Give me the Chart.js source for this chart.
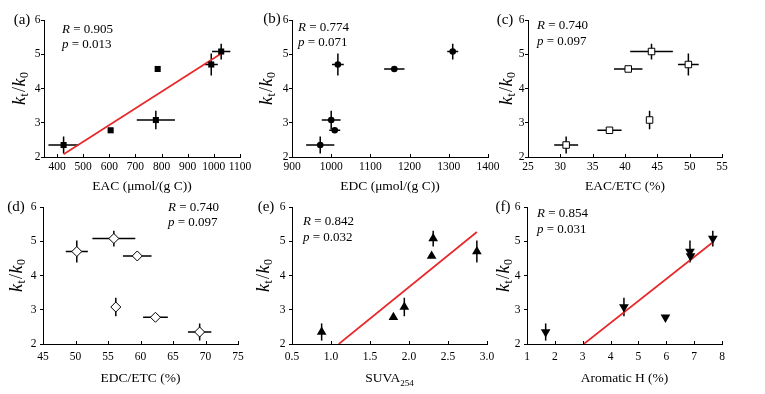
<!DOCTYPE html>
<html><head><meta charset="utf-8">
<script src="https://cdn.jsdelivr.net/npm/chart.js@4.4.0/dist/chart.umd.min.js"></script>
<style>
html,body{margin:0;padding:0;background:#fff;}
#wrap{position:relative;width:765px;height:394px;overflow:hidden;background:#fff;}
#wrap canvas{position:absolute;left:0;top:0;}
</style></head><body>
<div id="wrap"></div>
<script>
// ---- data ----
const kRatio    = [2.35, 2.78, 3.08, 4.57, 4.70, 5.08];
const kRatioErr = [0.25, 0.05, 0.27, 0.05, 0.32, 0.23];
const eac       = [425, 605, 778, 785, 990, 1028];
const eacErr    = [58, 0, 73, 0, 25, 35];
const edc       = [972, 1009, 1000, 1161, 1017, 1310];
const edcErr    = [36, 14, 24, 26, 15, 14];
const eacEtc    = [30.9, 37.6, 43.8, 40.5, 49.8, 44.1];
const eacEtcErr = [1.85, 1.87, 0, 2.2, 1.6, 3.3];
const edcEtc    = [69.1, 62.3, 56.2, 59.5, 50.2, 55.9];
const edcEtcErr = [1.8, 1.9, 0, 2.2, 1.7, 3.3];
const suva      = [0.88, 1.80, 1.94, 2.29, 2.87, 2.31];
const aromH     = [1.67, 5.97, 4.48, 6.87, 6.85, 7.67];
const fitAx = [425, 1030], fitAy = [2.08, 5.03];
const fitEx = [1.10, 2.87], fitEy = [2.00, 5.27];
const fitFx = [3.04, 7.67], fitFy = [2.00, 4.97];
const ticksA = [400, 500, 600, 700, 800, 900, 1000, 1100];
const ticksB = [900, 1000, 1100, 1200, 1300, 1400];
const ticksC = [25, 30, 35, 40, 45, 50, 55];
const ticksD = [45, 50, 55, 60, 65, 70, 75];
const ticksE = [0.5, 1.0, 1.5, 2.0, 2.5, 3.0];
const ticksF = [1, 2, 3, 4, 5, 6, 7, 8];
const ticksY = [2, 3, 4, 5, 6];
const statR = ['0.905', '0.774', '0.740', '0.740', '0.842', '0.854'];
const statP = ['0.013', '0.071', '0.097', '0.097', '0.032', '0.031'];
const panelLabels = ['(a)', '(b)', '(c)', '(d)', '(e)', '(f)'];

// ---- layout / style ----
const W = 765, H = 394, YW = 30, XH = 20;
const SERIF = "'Liberation Serif','Times New Roman',serif";
const RED = '#e8282a';

const panels = [
 {x: eac, xe: eacErr, min: 350, max: 1100, ticks: ticksA, l: 44, r: 240, t: 20, b: 157,
  ps: 'rect', pr: 4.3, bg: '#000', bw: 0, rot: 0, fitX: fitAx, fitY: fitAy,
  title: [{t: 'EAC (μmol/(g C))'}], lab: [22, 20], st: [62, 30, 45], yt: 20, ypad: 0.5, xpad: 3},
 {x: edc, xe: edcErr, min: 900, max: 1400, ticks: ticksB, l: 292, r: 488, t: 20, b: 157,
  ps: 'circle', pr: 3.3, bg: '#000', bw: 0, rot: 0,
  title: [{t: 'EDC (μmol/(g C))'}], lab: [272, 19], st: [298, 28, 43], yt: 267, ypad: 0.5, xpad: 3},
 {x: eacEtc, xe: eacEtcErr, min: 25, max: 55, ticks: ticksC, l: 528, r: 722, t: 20, b: 157,
  ps: 'rect', pr: 4.6, bg: '#fff', bw: 1, rot: 0,
  title: [{t: 'EAC/ETC (%)'}], lab: [505, 20], st: [537, 26, 42], yt: 507, ypad: 0.5, xpad: 3},
 {x: edcEtc, xe: edcEtcErr, min: 45, max: 75, ticks: ticksD, l: 43, r: 238, t: 207, b: 344,
  ps: 'rectRot', pr: 5, bg: '#fff', bw: 1, rot: 0,
  title: [{t: 'EDC/ETC (%)'}], lab: [16, 207], st: [168, 208, 223], yt: 17, ypad: 3.5, xpad: 6},
 {x: suva, xe: null, min: 0.5, max: 3.0, ticks: ticksE, l: 292, r: 487, t: 207, b: 344,
  ps: 'triangle', pr: 5.6, bg: '#000', bw: 0, rot: 0, fitX: fitEx, fitY: fitEy,
  title: [{t: 'SUVA'}, {t: '254', sub: true}], lab: [266, 207], st: [303, 222, 238], yt: 264, ypad: 3.5, xpad: 6, dec: 1},
 {x: aromH, xe: null, min: 1, max: 8, ticks: ticksF, l: 527, r: 722, t: 207, b: 344,
  ps: 'triangle', pr: 5.6, bg: '#000', bw: 0, rot: 180, fitX: fitFx, fitY: fitFy,
  title: [{t: 'Aromatic H (%)'}], lab: [503, 207], st: [537, 214, 230], yt: 504, ypad: 3.5, xpad: 6}
];

function drawParts(ctx, parts, x, y, align) {
  let w = 0;
  parts.forEach(p => { ctx.font = p.f; p.w = ctx.measureText(p.t).width; w += p.w + (p.sp || 0); });
  let cx = align === 'center' ? x - w / 2 : x;
  parts.forEach(p => { ctx.font = p.f; ctx.fillText(p.t, cx, y + (p.dy || 0)); cx += p.w + (p.sp || 0); });
}

function makeDeco(p, i) {
  return {
    id: 'deco' + i,
    beforeDatasetsDraw(chart) {
      const ctx = chart.ctx, xs = chart.scales.x, ys = chart.scales.y;
      ctx.save();
      ctx.strokeStyle = '#000'; ctx.lineWidth = 1.5;
      p.x.forEach((xv, k) => {
        const px = xs.getPixelForValue(xv), py = ys.getPixelForValue(kRatio[k]);
        const ye = kRatioErr[k];
        ctx.beginPath();
        ctx.moveTo(px, ys.getPixelForValue(kRatio[k] - ye));
        ctx.lineTo(px, ys.getPixelForValue(kRatio[k] + ye));
        if (p.xe && p.xe[k] > 0) {
          ctx.moveTo(xs.getPixelForValue(xv - p.xe[k]), py);
          ctx.lineTo(xs.getPixelForValue(xv + p.xe[k]), py);
        }
        ctx.stroke();
      });
      ctx.restore();
    },
    afterDraw(chart) {
      const ctx = chart.ctx, xs = chart.scales.x, a = chart.chartArea;
      ctx.save();
      // inward x tick marks
      ctx.strokeStyle = '#000'; ctx.lineWidth = 1;
      ctx.beginPath();
      p.ticks.forEach(v => {
        const px = Math.round(xs.getPixelForValue(v)) + 0.5;
        ctx.moveTo(px, Math.round(a.bottom)); ctx.lineTo(px, Math.round(a.bottom) - 3);
      });
      ctx.stroke();
      ctx.fillStyle = '#000';
      ctx.textBaseline = 'middle';
      ctx.textAlign = 'left';
      // panel label
      drawParts(ctx, [{t: panelLabels[i], f: '15px ' + SERIF}], p.lab[0], p.lab[1], 'center');
      // statistics
      drawParts(ctx, [{t: 'R', f: 'italic 13px ' + SERIF}, {t: ' = ' + statR[i], f: '13px ' + SERIF}], p.st[0], p.st[1], 'left');
      drawParts(ctx, [{t: 'p', f: 'italic 13px ' + SERIF}, {t: ' = ' + statP[i], f: '13px ' + SERIF}], p.st[0], p.st[2], 'left');
      // x title
      const tparts = p.title.map(q => q.sub ? {t: q.t, f: '9px ' + SERIF, dy: 5} : {t: q.t, f: '13.5px ' + SERIF});
      drawParts(ctx, tparts, (a.left + a.right) / 2, p.b < 200 ? 186.5 : 378.5, 'center');
      // y title k_t/k_0
      ctx.translate(p.yt, (a.top + a.bottom) / 2);
      ctx.rotate(-Math.PI / 2);
      drawParts(ctx, [
        {t: 'k', f: 'italic 18px ' + SERIF, sp: 0.5},
        {t: 't', f: '12px ' + SERIF, dy: 4.5, sp: 1},
        {t: '/', f: '18px ' + SERIF, sp: 0.5},
        {t: 'k', f: 'italic 18px ' + SERIF, sp: 0.5},
        {t: '0', f: '12px ' + SERIF, dy: 4.5}
      ], 0, 0, 'center');
      ctx.restore();
    }
  };
}

const wrap = document.getElementById('wrap');
panels.forEach((p, i) => {
  const c = document.createElement('canvas');
  c.width = W; c.height = H; c.style.width = W + 'px'; c.style.height = H + 'px';
  wrap.appendChild(c);
  const datasets = [{
    data: p.x.map((v, k) => ({x: v, y: kRatio[k]})),
    pointStyle: p.ps, pointRadius: p.pr, pointRotation: p.rot,
    backgroundColor: p.bg, borderColor: '#000', borderWidth: p.bw, showLine: false, order: 1
  }];
  if (p.fitX) datasets.push({
    data: p.fitX.map((v, k) => ({x: v, y: p.fitY[k]})),
    showLine: true, borderColor: RED, borderWidth: 1.7, pointRadius: 0, fill: false, order: 2
  });
  const tickFont = {family: SERIF, size: 11.5};
  new Chart(c, {
    type: 'scatter',
    data: {datasets},
    plugins: [makeDeco(p, i)],
    options: {
      responsive: false, animation: false, events: [],
      layout: {padding: {left: p.l - YW, right: W - p.r, top: p.t, bottom: H - p.b - XH}},
      plugins: {legend: {display: false}, tooltip: {enabled: false}},
      scales: {
        x: {
          type: 'linear', min: p.min, max: p.max,
          afterBuildTicks: s => { s.ticks = p.ticks.map(v => ({value: v})); },
          afterFit: s => { s.height = XH; s.paddingLeft = 0; s.paddingRight = 0; },
          grid: {display: true, drawOnChartArea: false, drawTicks: false},
          border: {display: true, color: '#000', width: 1},
          ticks: {color: '#000', font: tickFont, padding: p.xpad, maxRotation: 0, autoSkip: false,
                  callback: v => p.dec ? Number(v).toFixed(p.dec) : String(v)}
        },
        y: {
          type: 'linear', min: 2, max: 6,
          afterBuildTicks: s => { s.ticks = ticksY.map(v => ({value: v})); },
          afterFit: s => { s.width = YW; s.paddingTop = 0; s.paddingBottom = 0; },
          grid: {display: true, drawOnChartArea: false, drawTicks: true, tickLength: 3, color: '#000', tickColor: '#000'},
          border: {display: true, color: '#000', width: 1},
          ticks: {color: '#000', font: tickFont, padding: p.ypad, autoSkip: false}
        }
      }
    }
  });
});
</script>
</body></html>
